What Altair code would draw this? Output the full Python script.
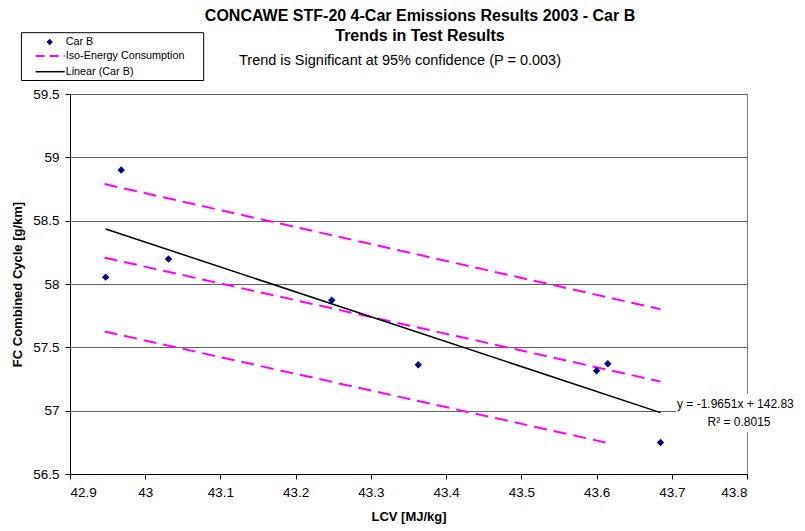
import altair as alt
import pandas as pd

# ---- data ----
car_lcv = [42.9475, 42.968, 43.031, 43.248, 43.363, 43.600, 43.615, 43.685]
car_fc = [58.054, 58.900, 58.198, 57.872, 57.362, 57.315, 57.370, 56.749]

iso_upper_lcv = [42.946, 43.685]
iso_upper_fc = [58.789, 57.801]
iso_mid_lcv = [42.946, 43.685]
iso_mid_fc = [58.208, 57.230]
iso_low_lcv = [42.946, 43.615]
iso_low_fc = [57.625, 56.745]

trend_slope = -1.9651
trend_intercept = 142.83
trend_lcv = [42.9475, 43.685]

x_ticks = [42.9, 43.0, 43.1, 43.2, 43.3, 43.4, 43.5, 43.6, 43.7, 43.8]
y_ticks = [56.5, 57.0, 57.5, 58.0, 58.5, 59.0, 59.5]

title_lines = ["CONCAWE STF-20 4-Car Emissions Results 2003 - Car B", "Trends in Test Results"]
subtitle = "Trend is Significant at 95% confidence (P = 0.003)"
legend_labels = ["Car B", "Iso-Energy Consumption", "Linear (Car B)"]
eq_text = "y = -1.9651x + 142.83"
r2_text = "R\u00b2 = 0.8015"

FONT = "Liberation Sans"
MAGENTA = "#FF00FF"
NAVY = "#000080"

points_df = pd.DataFrame({"lcv": car_lcv, "fc": car_fc})
iso_df = pd.concat([
    pd.DataFrame({"lcv": iso_upper_lcv, "fc": iso_upper_fc, "line": "upper"}),
    pd.DataFrame({"lcv": iso_mid_lcv, "fc": iso_mid_fc, "line": "mid"}),
    pd.DataFrame({"lcv": iso_low_lcv, "fc": iso_low_fc, "line": "low"}),
])
trend_df = pd.DataFrame({"lcv": trend_lcv,
                         "fc": [trend_slope * v + trend_intercept for v in trend_lcv]})

x_enc = alt.X("lcv:Q",
              scale=alt.Scale(domain=[42.9, 43.8], nice=False, zero=False),
              axis=alt.Axis(values=x_ticks, format="~g", title="LCV [MJ/kg]",
                            grid=False, titleX=338.5, titleY=42,
                            titleBaseline="middle"))
y_enc = alt.Y("fc:Q",
              scale=alt.Scale(domain=[56.5, 59.5], nice=False, zero=False),
              axis=alt.Axis(values=y_ticks, format="~g", title="FC Combined Cycle [g/km]",
                            grid=True, gridColor="#606060", gridWidth=1,
                            titleX=-53, titleY=190, titleAngle=-90,
                            titleBaseline="middle"))

iso = alt.Chart(iso_df).mark_line(color=MAGENTA, strokeWidth=2, strokeDash=[13, 7]).encode(
    x=x_enc, y=y_enc, detail="line:N")
trend = alt.Chart(trend_df).mark_line(color="black", strokeWidth=1.5).encode(x=x_enc, y=y_enc)
pts = alt.Chart(points_df).mark_point(shape="diamond", filled=True, color=NAVY, size=55, opacity=1).encode(
    x=x_enc, y=y_enc)

one = pd.DataFrame({"a": [0]})

# annotation box (white background behind equation text)
ann_bg = alt.Chart(one).mark_rect(color="white").encode(
    x=alt.value(606), x2=alt.value(735), y=alt.value(300), y2=alt.value(338))
eq = alt.Chart(one).mark_text(text=eq_text, font=FONT, fontSize=12, align="left",
                              baseline="middle", color="black").encode(
    x=alt.value(607), y=alt.value(310))
r2 = alt.Chart(one).mark_text(text=r2_text, font=FONT, fontSize=12, align="center",
                              baseline="middle", color="black").encode(
    x=alt.value(669), y=alt.value(328))

# titles
t1 = alt.Chart(one).mark_text(text=title_lines[0], font=FONT, fontSize=16, fontWeight="bold",
                              align="center", baseline="middle", color="black").encode(
    x=alt.value(350), y=alt.value(-78))
t2 = alt.Chart(one).mark_text(text=title_lines[1], font=FONT, fontSize=16, fontWeight="bold",
                              align="center", baseline="middle", color="black").encode(
    x=alt.value(350), y=alt.value(-58))
st = alt.Chart(one).mark_text(text=subtitle, font=FONT, fontSize=14.5, align="center",
                              baseline="middle", color="black").encode(
    x=alt.value(330), y=alt.value(-33))

# legend
leg_box = alt.Chart(one).mark_rect(fill="white", stroke="black", strokeWidth=1).encode(
    x=alt.value(-48.6), x2=alt.value(133.7), y=alt.value(-61.3), y2=alt.value(-13.5))
leg_pt = alt.Chart(one).mark_point(shape="diamond", filled=True, color=NAVY, size=40, opacity=1).encode(
    x=alt.value(-20.3), y=alt.value(-52))
leg_iso = alt.Chart(one).mark_rule(color=MAGENTA, strokeWidth=2, strokeDash=[9, 5]).encode(
    x=alt.value(-34.3), x2=alt.value(-5.3), y=alt.value(-38))
leg_lin = alt.Chart(one).mark_rule(color="black", strokeWidth=1.5).encode(
    x=alt.value(-34.3), x2=alt.value(-5.3), y=alt.value(-22.3))
leg_texts = [
    alt.Chart(one).mark_text(text=lbl, font=FONT, fontSize=10.8, align="left",
                             baseline="middle", color="black").encode(
        x=alt.value(-4.3), y=alt.value(yy))
    for lbl, yy in zip(legend_labels, [-52, -38, -22.3])
]

chart = alt.layer(iso, trend, pts, ann_bg, eq, r2, t1, t2, st,
                  leg_box, leg_pt, leg_iso, leg_lin, *leg_texts).properties(
    width=677, height=380,
    autosize=alt.AutoSizeParams(type="none"),
    padding={"left": 62, "top": 86, "right": 50, "bottom": 57},
).configure_view(
    stroke="#808080", strokeWidth=1
).configure_axis(
    labelFont=FONT, labelFontSize=13.5, labelColor="black",
    titleFont=FONT, titleFontSize=13, titleFontWeight="bold", titleColor="black",
    domainColor="black", domainWidth=1, tickColor="black", tickSize=5, tickWidth=1,
    labelPadding=6
)

chart.save("out.html", embed_options={"renderer": "svg", "actions": False})
